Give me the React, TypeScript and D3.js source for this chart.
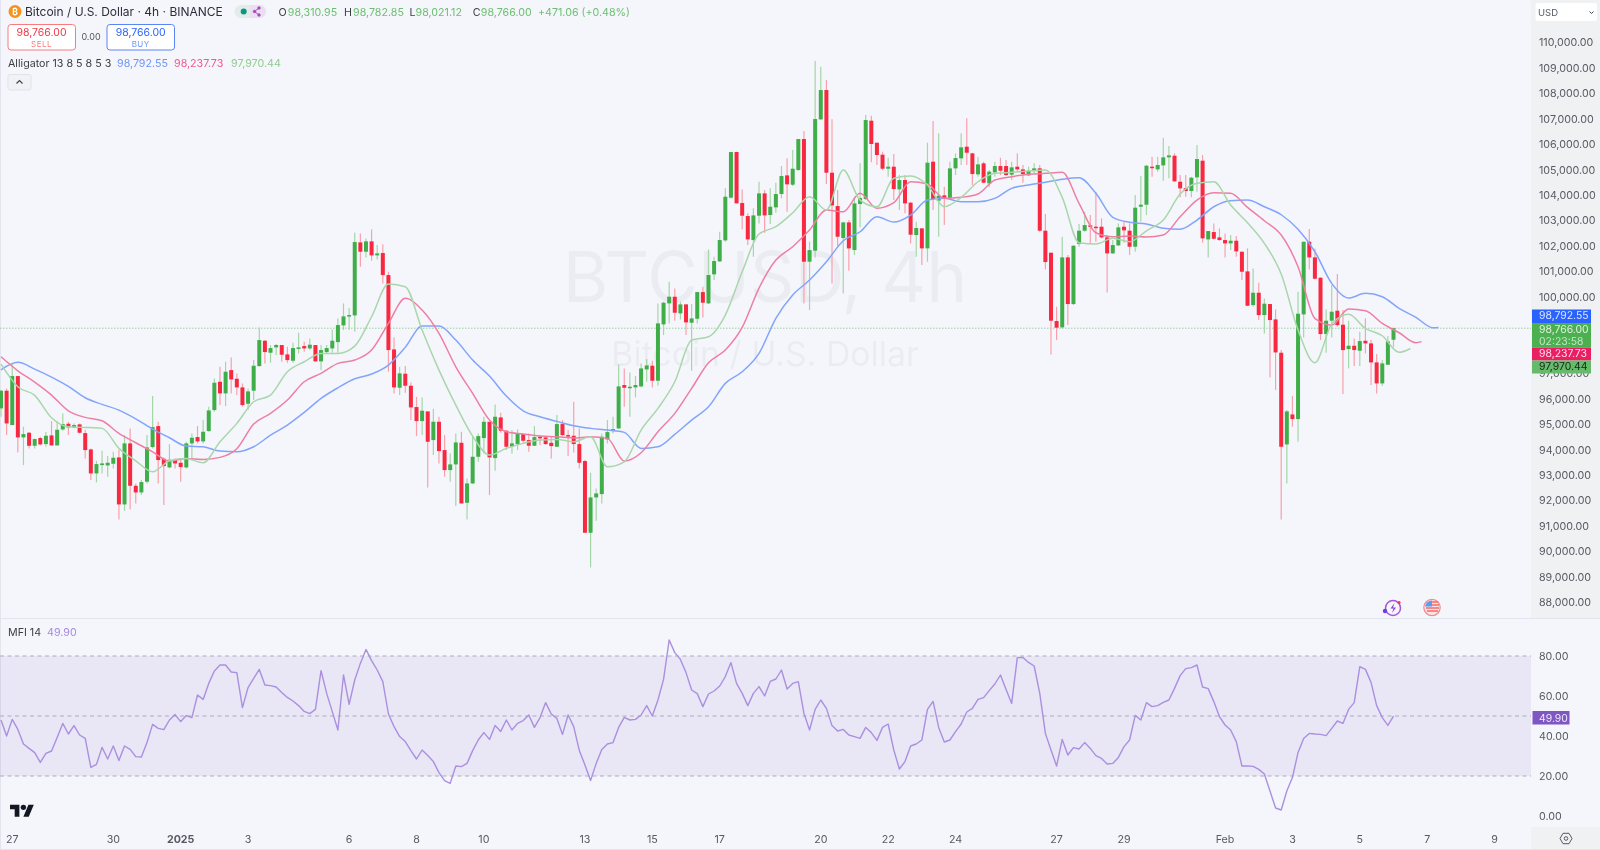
import React from "react";
import * as d3 from "d3";

// Rows are [open, high, low, close] read from the 4h candles, oldest first.
const candlesDecember = [
[95615,96335,95290,96310],[96310,96400,94566,95025],[94960,97383,94960,96885],[96885,96885,93885,94475],[94475,94894,93387,94606],
[94658,94684,94042,94147],[94147,94436,94042,94410],[94449,94501,94160,94200],[94213,94684,94108,94540],[94553,95117,94160,94160],
[94160,95117,94160,94776],[94789,95418,94737,94999],[95012,95090,94566,94868],[94868,95025,94829,94960],[94986,95025,94632,94658],
[94645,94763,93650,93977],[94003,94042,92798,93060],[93060,93558,92706,93427],[93388,93951,93060,93453],[93374,93741,92929,93479],
[93440,93911,93257,93676],[93689,93977,91252,91842],[91842,94566,91593,94239],[94239,94829,91645,92575],[92575,92667,91881,92313],
[92313,92798,92209,92720],[92733,94566,92667,94082],[94095,96099,94042,94881],[94920,95090,92667,93584],[93636,93689,91816,93348],
[93296,94213,93257,93597],[93584,93650,93257,93453],
];
const candlesEarlyJanuary = [
[93479,93650,92733,93309],[93296,94304,93257,94239],[94239,94632,93610,94462],[94488,94920,94239,94318],[94318,95156,94239,94697],
[94724,95680,94697,95536],[95549,96793,95484,96623],[96662,97252,95746,96204],[96204,97449,95706,97056],[97121,97619,96204,96754],
[96780,96990,96138,96440],[96440,96597,95680,95746],[95798,96400,95549,96283],[96309,97514,95942,97291],[97278,98798,97252,98300],
[98274,98300,97383,97828],[97802,98104,97409,97986],[98012,98143,97710,98104],[98104,98104,97449,97724],[97737,98038,97409,97514],
[97488,98195,97409,97986],[97972,98588,97776,98012],[98064,98234,97841,97972],[97972,98366,97907,98117],[98104,98104,97449,97462],
[97462,98104,97121,97907],[97828,98104,97776,97986],[97972,98719,97802,98274],[98221,99152,97802,98890],[98876,99741,98693,99230],
[99243,99558,98693,99282],[99269,102518,98628,102151],[102138,102492,101182,101771],[101771,102295,101549,102178],[102178,102649,101418,101627],
[101627,102034,101470,101706],[101719,102060,100527,100854],[100854,100985,97055,97907],[97933,98405,96204,96440],[96427,97252,96138,96990],
[96977,97278,96230,96505],[96505,96636,95156,95654],[95667,96073,94527,95117],[95117,96047,94566,95523],[95497,95497,92510,94304],
[94370,95601,93780,95090],[95090,95287,93453,93938],[93977,94566,92929,93191],[93191,93846,92733,93414],[93414,94632,91776,94278],
[94265,94697,91881,91881],[91907,92863,91252,92667],[92667,94501,92641,93715],[93715,94632,93518,94527],[94449,95287,93846,95090],
[95090,95090,92208,93689],[93663,95772,93165,95287],[95261,95444,94658,94737],[94737,94763,93977,94108],[94108,94763,93846,94239],
[94213,94789,93977,94619],[94606,94632,94265,94344],[94370,94632,93912,94147],[94147,94920,94134,94488],[94501,94566,94174,94436],
[94475,94501,94174,94213],[94265,94501,93650,94134],[94108,95352,94108,94999],[94999,95156,94527,94566],[94566,94763,93741,94527],
[94540,95877,93885,94213],[94213,94829,93257,93479],
];
const candlesMidJanuary = [
[93545,93584,90728,90728],[90728,93086,89366,92117],[92117,92470,91200,92274],[92248,94632,91881,94501],[94396,95156,94239,94684],
[94724,95287,94632,94802],[94829,97344,94802,96479],[96532,97186,95680,96427],[96427,97029,95287,96466],[96440,96885,96047,96532],
[96479,97383,96440,97186],[97147,97553,96662,97304],[97291,97488,96440,96702],[96702,99741,96505,98955],[98916,99806,98496,99767],
[99741,100592,98955,100003],[100003,100330,99060,99374],[99348,99806,99112,99702],[99702,99702,98496,98994],[98981,99715,97095,99151],
[99138,100200,98955,100186],[100186,100396,99191,99767],[99741,101863,99715,100855],[100881,101575,100658,101405],[101392,102558,101366,102230],
[102217,104261,102165,103933],[103894,105702,103867,105688],[105688,105702,103671,103671],[103684,104221,102649,103186],[103173,103278,102033,102256],
[102230,103475,101575,103199],[103186,104522,102885,104064],[104064,104195,102518,103199],[103212,104261,102859,103540],[103514,104483,103304,104038],
[104038,105138,103867,104745],[104771,105440,103343,104418],[104405,105767,104352,105033],[104981,106199,104955,106199],[106199,106514,99741,101379],
[101379,102165,99479,101837],[101811,109278,101549,106985],[106972,109042,106946,108125],[108125,108518,104431,104876],[104876,106972,100527,103592],
[103566,104195,101968,102361],[102309,102951,100134,102924],[102924,103016,101025,101902],[101837,103933,101641,103671],[103645,105243,102728,103881],
[103841,107143,103802,106946],[106920,107116,105282,106003],[106055,106055,105178,105570],[105584,105701,104981,105033],[105033,105466,104719,105112],
[105112,105610,103802,104234],[104221,104784,103409,104588],[104588,104784,103278,103671],[103697,103737,102099,102440],[102427,102951,101575,102702],
[102689,102689,101248,101903],[101903,106055,101379,105269],[105309,106907,103409,103841],[103776,106422,102361,103972],[103985,104326,102820,103867],
[103881,105309,103867,105046],[105046,105636,104784,105453],[105440,106422,105178,105872],[105898,107011,105178,105662],[105636,105662,104392,104824],
[104811,105505,104719,105204],
];
const candlesLateJanuary = [
[105243,105309,104457,104483],[104457,104981,104300,104916],[104889,105309,104719,105138],[105138,105466,104784,104955],[105138,105374,104745,104784],
[104797,105309,104588,105086],[105112,105636,104916,105007],[105007,105178,104483,104824],[104771,105112,104745,104955],[104942,105243,104850,105047],
[105047,105178,102557,102597],[102597,103252,101077,101365],[101732,101732,97737,99060],[99047,99610,98300,98785],[98798,102361,98759,101549],
[101549,101640,98890,99715],[99715,102033,99676,102007],[102073,102859,101968,102597],[102597,103343,102557,102819],[102806,103212,102099,102754],
[102754,104129,102165,102715],[102754,103082,102296,102335],[102335,102427,100173,101706],[101706,102230,101680,102033],[102020,102885,101994,102728],
[102754,102951,102125,102610],[102597,102885,101640,101968],[101968,103999,101771,103501],[103540,104745,102951,103619],[103619,105178,103212,105151],
[105112,105505,104719,105086],[105007,105505,104916,105178],[105164,106252,104562,105479],[105479,105924,104654,105557],[105544,105636,104522,104536],
[104522,104784,103907,104260],[104274,104784,103933,104156],[104156,104719,103907,104680],[104693,105964,104130,105413],[105348,105570,102125,102296],
];
const candlesFebruary = [
[102256,102584,101549,102584],[102544,102885,102256,102282],[102335,102689,102204,102230],[102230,102492,101549,102099],[102099,102427,101837,102204],
[102204,102387,101575,101785],[101772,101772,100658,100985],[100999,101902,99636,99649],[99675,101116,99610,100160],[100160,100553,99086,99282],
[99282,99938,98562,99728],[99715,99715,96833,99086],[99112,99505,96335,97815],[97802,97907,91252,94108],[94200,95549,92667,95497],
[95378,96099,94894,95195],[95195,100200,94305,99335],[99309,102164,98405,102164],[102164,102662,101077,101549],[101549,101902,100684,100710],
[100750,100763,98300,98536],[98536,99505,97802,99060],[99060,100461,98405,99414],[99453,100894,98824,98889],[98903,99479,96178,97907],
[97946,99060,97186,98077],[98077,98365,97278,97907],[97881,98628,97278,98261],[98274,99152,97776,98169],[98169,98300,96532,97422],
[97422,97750,96204,96597],[96597,97514,96492,97383],[97331,98457,97318,98248],[98311,98783,98021,98766],
];
const candles = [...candlesDecember, ...candlesEarlyJanuary, ...candlesMidJanuary, ...candlesLateJanuary, ...candlesFebruary];

// Alligator lines, read every third candle; the final value sits at the line's end candle.
const sampleStep = 3;
const jawEndCandle = 256;
const jaw = [97133,97424,97160,96846,96480,96032,95773,95549,95207,94802,94460,94134,94107,93938,93910,94107,94566,94959,95459,96009,96425,96779,96964,97317,98013,98850,98850,98300,97514,96885,96099,95521,95286,95105,94932,94830,94763,94673,94044,94107,94594,95156,95679,96598,97054,97777,99153,100069,100658,101377,102202,102556,103146,102937,103213,103802,103869,103735,103735,103869,104262,104392,104498,104616,104678,104065,103122,102926,102859,102690,102651,103016,103539,103774,103802,103539,103224,102651,101770,100528,99951,100135,100002,99546,99192,98783,98793];
const teethEndCandle = 253;
const teeth = [97644,97093,96649,96138,95521,95262,95128,94633,94264,93910,93545,93651,93612,93690,94028,94999,95419,95942,96661,96991,97384,97514,97907,98956,99939,99479,98563,97251,96205,95156,94696,94606,94527,94500,94449,94500,94437,93545,93871,94696,95419,96402,97408,97907,98799,100344,101444,101967,102623,103409,103342,104065,103476,103696,104521,104431,103869,103908,104038,104588,104718,104812,104851,104891,103672,102517,102360,102387,102348,102427,103146,103802,104089,104065,103515,102988,102427,101181,99153,98889,99518,99451,98956,98587,98194,98238];
const lipsEndCandle = 251;
const lips = [97357,96465,96127,95246,94893,94869,94830,94044,93556,93124,93556,93651,93478,94303,95026,95875,96138,97054,97447,97777,97777,98064,99216,100501,100395,98693,97121,95745,94527,93780,94044,94240,94370,94397,94303,94500,93321,93517,94763,95616,96661,98300,98430,99282,100984,102466,102753,103303,103932,103409,104981,103802,103539,104655,104745,104392,103539,103908,104521,104851,104891,104942,104981,103908,102124,102073,102297,102163,102595,103016,104038,104458,104521,103606,102910,102100,100894,98693,97408,98929,99310,98760,98469,97817,97970];

const mfi = [48,40,48.3,43.3,36,33.8,31.7,26.8,31.3,32.5,39.3,46.3,41,45.2,40.5,38.8,24.3,25.8,34.3,28.5,35,27.7,35,33.3,29.7,29.5,36.7,45.8,43.8,43.2,48,50.7,47.2,50.2,49.2,60.5,58.3,66.3,72.5,75.5,75.5,72,71.7,54.2,64.2,68.8,73.3,65.5,65.2,64.5,61.8,59.3,57.5,55.2,52.3,51.2,53.3,72.7,61.3,52.2,43,70.5,55.8,68,76.3,83.3,77.7,73,67.2,51,44.7,39.7,37.2,32.7,28.5,33,30.2,27.2,21.7,17.7,16.3,25,24.7,26.3,32.7,38,41.7,38.3,45.3,42.3,48,43,46.3,47.7,50.5,44.3,49.2,56.7,51,48.8,40.8,50.5,44.7,32.7,25.5,17.7,26.3,33.3,36,36.7,44.3,49.3,48,48.3,50.5,55.2,50,58,68.3,88,81.7,78.3,71.7,63,61.2,54.7,61,62.5,65,69.7,76.7,66.3,61.3,55.2,61.3,64.7,60,67.3,68.5,73,63.5,66.3,67.2,51.3,43,53.3,58,53.8,45.2,42.5,43.3,40.5,39.7,38.8,44.3,41.7,37.8,44.3,46,33,23.5,27.2,35,36,38,53.3,57.3,44.3,37,38,42.2,46,52,53.8,58.3,59.2,62.7,66,70.5,63.3,56.3,79.2,79.3,76.8,75,61.3,41.3,33,25,38.3,30.5,34.2,33.5,36.7,33.8,30.2,28.8,26,26.3,29.3,34.7,38,50.3,48,56.7,54.7,55.2,56.8,58,63.8,70.2,73.7,74.2,75.5,64.5,63.7,57.2,49.7,45.5,43,37.2,25,25,24.8,23.3,21,12.5,4,3,12.5,19.2,31.8,38.8,41.3,41,40.8,40.2,43.8,47.5,46.3,53.3,56.7,74.7,73.3,66.8,55.2,49.2,45.3,49.9];

const timeLabels = ["27","30","2025","3","6","8","10","13","15","17","20","22","24","27","29","Feb","3","5","7","9"];
const timeLabelCandles = [2,20,32,44,62,74,86,104,116,128,146,158,170,188,200,218,230,242,254,266];
const priceTicks = [88000,89000,90000,91000,92000,93000,94000,95000,96000,97000,100000,101000,102000,103000,104000,105000,106000,107000,108000,109000,110000];
const mfiTicks = [0,20,40,60,80];
const mfiBands = [80,50,20];

const lastPrice = 98766;
const jawLast = 98792.55;
const teethLast = 98237.73;
const lipsLast = 97970.44;
const mfiLast = 49.9;

const W = 1600, H = 850, PLOT_R = 1531;
const BG = "#f5f6fc", AXIS_BG = "#f0f1f3", DIV = "#e3e5ee";
const UP = "#3fae49", DOWN = "#f7283f", UP_WICK = "#a4d6a7", DOWN_WICK = "#f8a0ab";
const FONT = "Inter, 'Liberation Sans', sans-serif";
const TXT = 10.7;

const fmt = d3.format(",.2f");
const x = d3.scaleLinear().domain([0, 248]).range([1, 1393.5]);
const y = d3.scaleLinear().domain([88000, 110000]).range([602.2, 42.3]);
const ym = d3.scaleLinear().domain([0, 80]).range([816, 656]);

const lineOf = d3.line<[number, number]>().x(d => x(d[0])).y(d => y(d[1])).curve(d3.curveMonotoneX);
const pts = (vals: number[], end: number): [number, number][] =>
  vals.map((v, k) => [k === vals.length - 1 ? end : k * sampleStep, v]);
const mfiPath = d3.line<number>().x((_, i) => x(i)).y(d => ym(d))(mfi) as string;

const Tag = ({ top, h, fill, text, color = "#fff" }: any) => (
  <g>
    <rect x={1532} y={top} width={59} height={h} fill={fill} />
    <text x={1539} y={top + 9.5} fontSize={10.4} fill={color}>{text}</text>
  </g>
);

export default function App() {
  return (
    <svg width={W} height={H} viewBox={`0 0 ${W} ${H}`} fontFamily={FONT}
      style={{ position: "fixed", left: 0, top: 0, display: "block", filter: "blur(0.5px)" }}>
      <rect width={W} height={H} fill={BG} />
      <rect x={PLOT_R} y={0} width={W - PLOT_R} height={618} fill={AXIS_BG} />
      <rect x={PLOT_R} y={827} width={W - PLOT_R} height={22} fill={AXIS_BG} />
      <line x1={0.5} x2={0.5} y1={0} y2={H} stroke={DIV} />
      <line x1={0} x2={W} y1={618.5} y2={618.5} stroke={DIV} />
      <line x1={0} x2={W} y1={849.5} y2={849.5} stroke={DIV} />

      {/* watermark */}
      <text x={765} y={302} textAnchor="middle" fontSize={69.6} fill="#000" fillOpacity={0.04}>BTCUSD, 4h</text>
      <text x={765} y={366} textAnchor="middle" fontSize={33.8} fill="#000" fillOpacity={0.04}>Bitcoin / U.S. Dollar</text>

      {/* last price line */}
      <line x1={0} x2={PLOT_R} y1={y(lastPrice)} y2={y(lastPrice)} stroke="#7cc47f" strokeOpacity={0.75} strokeDasharray="1.5 1.5" />

      {/* candles */}
      <g>
        {candles.map(([o, h, l, c], i) => {
          const up = c >= o;
          const top = y(Math.max(o, c)), bot = y(Math.min(o, c));
          return (
            <g key={i}>
              <line x1={x(i)} x2={x(i)} y1={y(h)} y2={y(l)} stroke={up ? UP_WICK : DOWN_WICK} strokeWidth={1.2} />
              <rect x={x(i) - 2} y={top} width={4} height={Math.max(bot - top, 1.5)} fill={up ? UP : DOWN} />
            </g>
          );
        })}
      </g>

      {/* alligator */}
      <path d={lineOf(pts(jaw, jawEndCandle)) as string} fill="none" stroke="#82a5fb" strokeWidth={1.5} />
      <path d={lineOf(pts(teeth, teethEndCandle)) as string} fill="none" stroke="#ee7fa3" strokeWidth={1.5} />
      <path d={lineOf(pts(lips, lipsEndCandle)) as string} fill="none" stroke="#a9d6ab" strokeWidth={1.5} />

      {/* header */}
      <circle cx={15} cy={11.5} r={6.5} fill="#f7931a" />
      <text x={15} y={14.5} textAnchor="middle" fontSize={8.5} fontWeight={700} fill="#fff">₿</text>
      <text x={25} y={16} fontSize={12} fill="#2a2e39">Bitcoin / U.S. Dollar · 4h · BINANCE</text>
      <rect x={234.5} y={5} width={31.5} height={13} rx={6.5} fill="#e3ece9" />
      <path d="M250 5h9.5a6.5 6.5 0 0 1 0 13H250z" fill="#eadff0" />
      <circle cx={243.7} cy={11.5} r={3} fill="#089981" />
      <g stroke="#ab47bc" strokeWidth={1} fill="#ab47bc">
        <path d="M259 8 L254.5 11.5 L259 15" fill="none" />
        <circle cx={259} cy={8} r={1.2} /><circle cx={254.5} cy={11.5} r={1.2} /><circle cx={259} cy={15} r={1.2} />
      </g>
      <g fontSize={TXT}>
        <text x={278.4} y={16} fill="#3c4043">O</text><text x={287.8} y={16} fill="#6cbf70">98,310.95</text>
        <text x={344} y={16} fill="#3c4043">H</text><text x={353} y={16} fill="#6cbf70">98,782.85</text>
        <text x={409.4} y={16} fill="#3c4043">L</text><text x={415.5} y={16} fill="#6cbf70">98,021.12</text>
        <text x={472.7} y={16} fill="#3c4043">C</text><text x={480.8} y={16} fill="#6cbf70">98,766.00</text>
        <text x={538} y={16} fill="#6cbf70">+471.06 (+0.48%)</text>
      </g>

      {/* sell / buy */}
      <rect x={8} y={24.5} width={67.5} height={25.5} rx={3} fill="#fff" stroke="#f77c80" />
      <text x={41.5} y={35.5} textAnchor="middle" fontSize={10.5} fill="#f23645">98,766.00</text>
      <text x={41.5} y={47} textAnchor="middle" fontSize={8} fill="#f77c80" letterSpacing={0.5}>SELL</text>
      <text x={91} y={40} textAnchor="middle" fontSize={9} fill="#555">0.00</text>
      <rect x={107} y={24.5} width={67.5} height={25.5} rx={3} fill="#fff" stroke="#5b85f5" />
      <text x={140.7} y={35.5} textAnchor="middle" fontSize={10.5} fill="#2962ff">98,766.00</text>
      <text x={140.7} y={47} textAnchor="middle" fontSize={8} fill="#6e94f8" letterSpacing={0.5}>BUY</text>

      {/* indicator legend */}
      <text x={8} y={67} fontSize={TXT} fill="#3c4043">Alligator 13 8 5 8 5 3</text>
      <text x={117} y={67} fontSize={TXT} fill="#6f96f5">{fmt(jawLast)}</text>
      <text x={174} y={67} fontSize={TXT} fill="#ec5c8c">{fmt(teethLast)}</text>
      <text x={231} y={67} fontSize={TXT} fill="#8fcb92">{fmt(lipsLast)}</text>
      <rect x={8} y={74.5} width={23} height={15.5} rx={2} fill="#f1f2f6" stroke="#e0e3eb" />
      <path d="M16.5 83.5 L19.5 80.5 L22.5 83.5" fill="none" stroke="#444" strokeWidth={1.2} />

      {/* price axis */}
      <g fontSize={TXT} fill="#555a63">
        {priceTicks.map(t => <text key={t} x={1539} y={y(t) + 4}>{fmt(t)}</text>)}
      </g>
      <rect x={1535.5} y={3} width={61.5} height={18} rx={2} fill="#fff" />
      <text x={1538} y={16} fontSize={9.5} fill="#555a63">USD</text>
      <path d="M1589.5 11.5 L1591.5 13.5 L1593.5 11.5" fill="none" stroke="#444" />
      <Tag top={309.5} h={13.5} fill="#2962ff" text={fmt(jawLast)} color="#dfe8ff" />
      <rect x={1532} y={323} width={59} height={24.5} fill="#4caf50" />
      <text x={1539} y={332.5} fontSize={10.4} fill="#e0f2e1">{fmt(lastPrice)}</text>
      <text x={1539} y={344.5} fontSize={10.4} fill="#c3e6c5">02:23:58</text>
      <Tag top={347.5} h={13} fill="#e91e63" text={fmt(teethLast)} color="#ffe0ea" />
      <Tag top={360.5} h={13} fill="#66bb6a" text={fmt(lipsLast)} color="#14261a" />

      {/* event icons */}
      <g fill="none">
        <circle cx={1393} cy={608} r={7.5} stroke="#a855d8" strokeWidth={1.5} />
        <path d="M1394.5 603 L1390.5 608.5 L1393.5 608.5 L1392 613 L1396 607.5 L1393 607.5 Z" fill="#8e3fd0" />
        <circle cx={1385} cy={611} r={2.2} fill="#6a3fe0" />
        <circle cx={1399} cy={602.5} r={1.6} fill="#f23645" />
      </g>
      <circle cx={1432} cy={607.5} r={8.2} fill="#fde4e4" stroke="#f28b8b" strokeWidth={1.2} />
      <path d="M1425 606.5 A7 7 0 0 1 1432 600.5 L1432 606.5 Z" fill="#5a9df0" />
      <path d="M1432 602 h6 M1432 605 h7 M1426 608 h13 M1427 611 h11" stroke="#f26a6a" strokeWidth={1.4} fill="none" />

      {/* MFI pane */}
      <text x={8} y={636} fontSize={TXT} fill="#3c4043">MFI 14</text>
      <text x={47} y={636} fontSize={TXT} fill="#a68ade">{mfiLast.toFixed(2)}</text>
      <rect x={0} y={ym(80)} width={PLOT_R} height={ym(20) - ym(80)} fill="#7e57c2" fillOpacity={0.1} />
      {mfiBands.map(b => (
        <line key={b} x1={0} x2={PLOT_R} y1={ym(b)} y2={ym(b)} stroke="#aeaab8" strokeDasharray="4 3.5" />
      ))}
      <path d={mfiPath} fill="none" stroke="#aa90df" strokeWidth={1.4} strokeLinejoin="round" />
      <g fontSize={TXT} fill="#555a63">
        {mfiTicks.map(t => <text key={t} x={1539} y={ym(t) + 4}>{t.toFixed(2)}</text>)}
      </g>
      <rect x={1532.5} y={711} width={37} height={13.5} fill="#7e57c2" />
      <text x={1539} y={721.8} fontSize={10.4} fill="#efe9fb">{mfiLast.toFixed(2)}</text>

      {/* TradingView mark */}
      <g transform="translate(10 802) scale(0.67)" fill="#131722">
        <path d="M14 22H7V11H0V4h14v18zM28 22h-8l7.5-18h8L28 22z" />
        <circle cx="20" cy="8" r="4" />
      </g>

      {/* time axis */}
      <g fontSize={TXT} fill="#555a63" textAnchor="middle">
        {timeLabels.map((t, i) => (
          <text key={i} x={x(timeLabelCandles[i])} y={842.5} fontWeight={t === "2025" ? 700 : 400}>{t}</text>
        ))}
      </g>
      <g transform="translate(1566 838.5)" fill="none" stroke="#555a63">
        <path d="M-3 -5.2 L3 -5.2 L6 0 L3 5.2 L-3 5.2 L-6 0 Z" />
        <circle r={1.8} />
      </g>
    </svg>
  );
}
